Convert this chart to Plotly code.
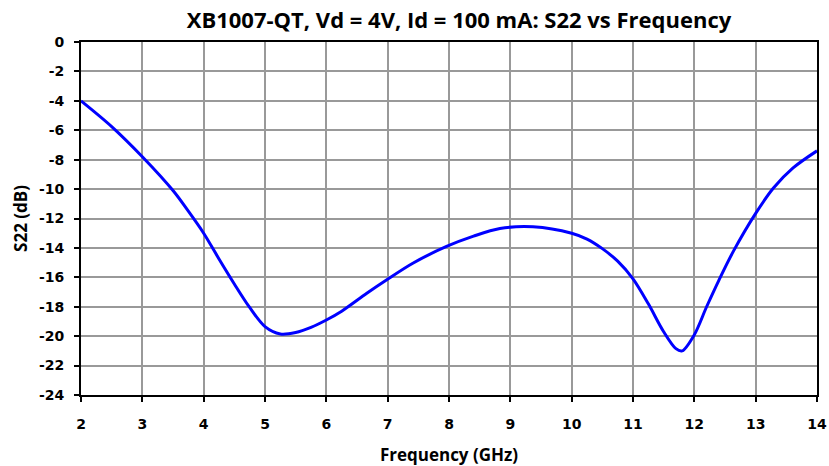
import plotly.graph_objects as go

freq_ghz = [2.0, 2.5, 3.0, 3.5, 3.75, 4.0, 4.25, 4.5, 4.75, 5.0, 5.25, 5.5,
            5.75, 6.0, 6.25, 6.66, 6.98, 7.41, 7.96, 8.40, 8.83, 9.37, 10.0, 10.25,
            10.5, 10.75, 11.0, 11.25, 11.5, 11.7, 11.8, 12.0, 12.2, 12.4, 12.64, 13.0,
            13.29, 13.61, 14.0]
s22_db = [-4.0, -5.75, -7.8, -10.1, -11.5, -13.0, -14.75, -16.45, -18.05, -19.35,
          -19.85, -19.75, -19.4, -18.9, -18.3, -17.08, -16.18, -15.04, -13.9, -13.2,
          -12.68, -12.56, -13.0, -13.4, -14.05, -14.9, -16.1, -17.8, -19.7, -20.85,
          -21.0, -19.9, -18.0, -16.2, -14.2, -11.65, -9.93, -8.56, -7.4]

x_ticks = list(range(2, 15))
y_ticks = list(range(0, -25, -2))

fig = go.Figure()
fig.add_trace(go.Scatter(x=freq_ghz, y=s22_db, mode="lines",
                         line=dict(color="#0000FF", width=3, shape="spline", smoothing=0.9),
                         showlegend=False))

title_font = "Open Sans"
tick_font = "DejaVu Sans"
fig.update_layout(
    width=829, height=466,
    margin=dict(l=81, r=12, t=42, b=71, autoexpand=False),
    paper_bgcolor="white", plot_bgcolor="white",
    title=dict(text="<b>XB1007-QT, Vd = 4V, Id = 100 mA: S22 vs Frequency</b>",
               x=459 / 829, xref="container", xanchor="center", y=1 - 20 / 466, yref="container",
               yanchor="middle",
               font=dict(family=title_font, size=22, color="black")),
    font=dict(family=title_font, color="black"),
)
fig.update_xaxes(range=[2, 14], tickvals=x_ticks, ticktext=[f"<b>{v}</b>" for v in x_ticks],
                 showgrid=True, gridcolor="#999999", gridwidth=2,
                 showline=True, linecolor="black", linewidth=2, mirror=True,
                 ticks="outside", ticklen=5, tickwidth=1.5, tickcolor="black",
                 tickfont=dict(size=14, family=tick_font, weight="bold"), ticklabelstandoff=10,
                 title=dict(text="<b>Frequency (GHz)</b>", font=dict(size=17, family=title_font), standoff=19),
                 zeroline=False, automargin=False)
fig.update_yaxes(range=[-24, 0], tickvals=y_ticks, ticktext=[f"<b>{v}</b>" for v in y_ticks],
                 showgrid=True, gridcolor="#999999", gridwidth=2,
                 showline=True, linecolor="black", linewidth=2, mirror=True,
                 ticks="outside", ticklen=5, tickwidth=1.5, tickcolor="black",
                 tickfont=dict(size=14, family=tick_font, weight="bold"), ticklabelstandoff=7,
                 title=dict(text="<b>S22 (dB)</b>", font=dict(size=17, family=title_font), standoff=7),
                 zeroline=False, automargin=False)

fig.write_html("out.html", config={"displayModeBar": False},
               post_script="document.body.style.margin='0px';")
